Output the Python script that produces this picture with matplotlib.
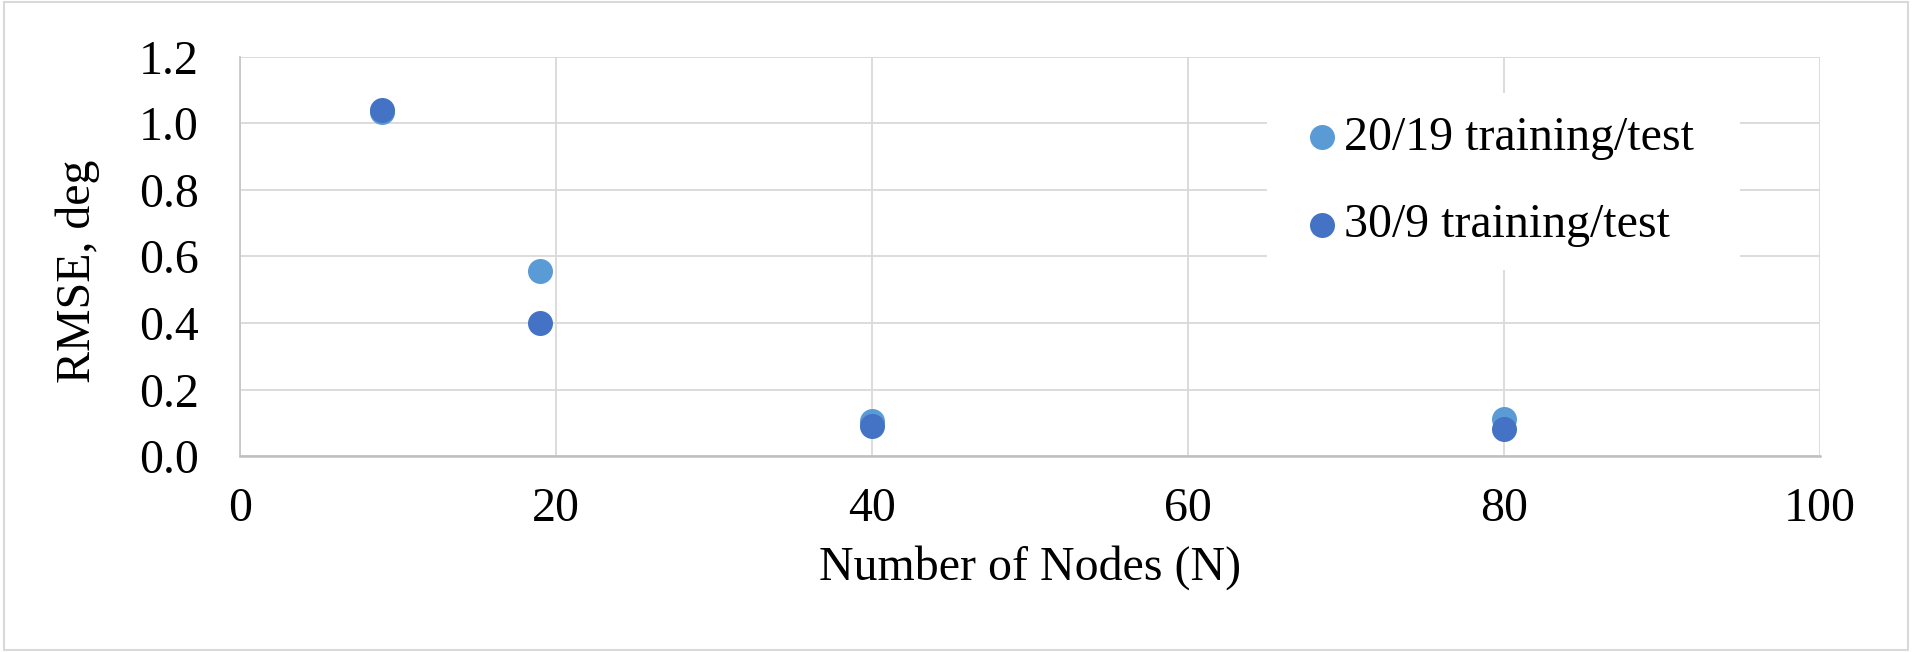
import matplotlib
matplotlib.use("Agg")
from matplotlib import pyplot as plt
from matplotlib.patches import Rectangle

# data
nodes = [9, 19, 40, 80]
rmse_20_19 = [1.035, 0.555, 0.105, 0.11]
rmse_30_9 = [1.04, 0.40, 0.09, 0.08]
labels = ["20/19 training/test", "30/9 training/test"]

plt.rcParams['font.family'] = ['Liberation Serif', 'DejaVu Serif']
FS = 34.5


def draw():
    fig = plt.figure(figsize=(19.12, 6.52), dpi=100)
    ax = fig.add_axes([0.1255, 0.3006, 0.952 - 0.1255, 0.9126 - 0.3006])

    grid_col = "#D9D9D9"
    ax.set_xlim(0, 100)
    ax.set_ylim(0, 1.2)
    ax.set_xticks(range(0, 101, 20))
    ax.set_yticks([i * 0.2 for i in range(7)])
    ax.set_yticklabels([f"{i * 0.2:.1f}" for i in range(7)])
    ax.grid(True, color=grid_col, linewidth=1.3)
    ax.set_axisbelow(True)
    for side in ["top", "right"]:
        ax.spines[side].set_visible(False)
    ax.spines["left"].set_color("#C8C8C8")
    ax.spines["left"].set_linewidth(1.3)
    ax.spines["bottom"].set_color("#BFBFBF")
    ax.spines["bottom"].set_linewidth(1.8)
    ax.tick_params(length=0, labelsize=FS)
    ax.tick_params(axis="x", pad=22)
    ax.tick_params(axis="y", pad=29.5)

    ax.scatter(nodes, rmse_20_19, s=324, color="#5B9BD5", label=labels[0], zorder=3, linewidths=0)
    ax.scatter(nodes, rmse_30_9, s=324, color="#4472C4", label=labels[1], zorder=3, linewidths=0)

    ax.set_xlabel("Number of Nodes (N)", fontsize=FS)
    ax.set_ylabel("RMSE, deg", fontsize=FS)
    ax.xaxis.set_label_coords(0.5, -0.223)
    ax.yaxis.set_label_coords(-0.0886, 0.464)

    # white area behind the legend hides the grid there
    ax.add_patch(Rectangle((0.65, 0.466), 0.299, 0.444, transform=ax.transAxes,
                           facecolor="white", edgecolor="none", zorder=1))
    leg = ax.legend(loc="upper left", bbox_to_anchor=(0.6759, 0.852), fontsize=FS, frameon=False,
                    markerscale=1.0, handlelength=0.6, handletextpad=0.15, labelspacing=0.9,
                    borderpad=0, borderaxespad=0)
    leg.set_zorder(5)

    # outer chart border
    fig.patches.append(Rectangle((0.002, 0.003), 0.996, 0.994, transform=fig.transFigure,
                                 fill=False, edgecolor="#D9D9D9", linewidth=1.5))

    fig.savefig("out.png", dpi=100)


if __name__ == "__main__":
    draw()
